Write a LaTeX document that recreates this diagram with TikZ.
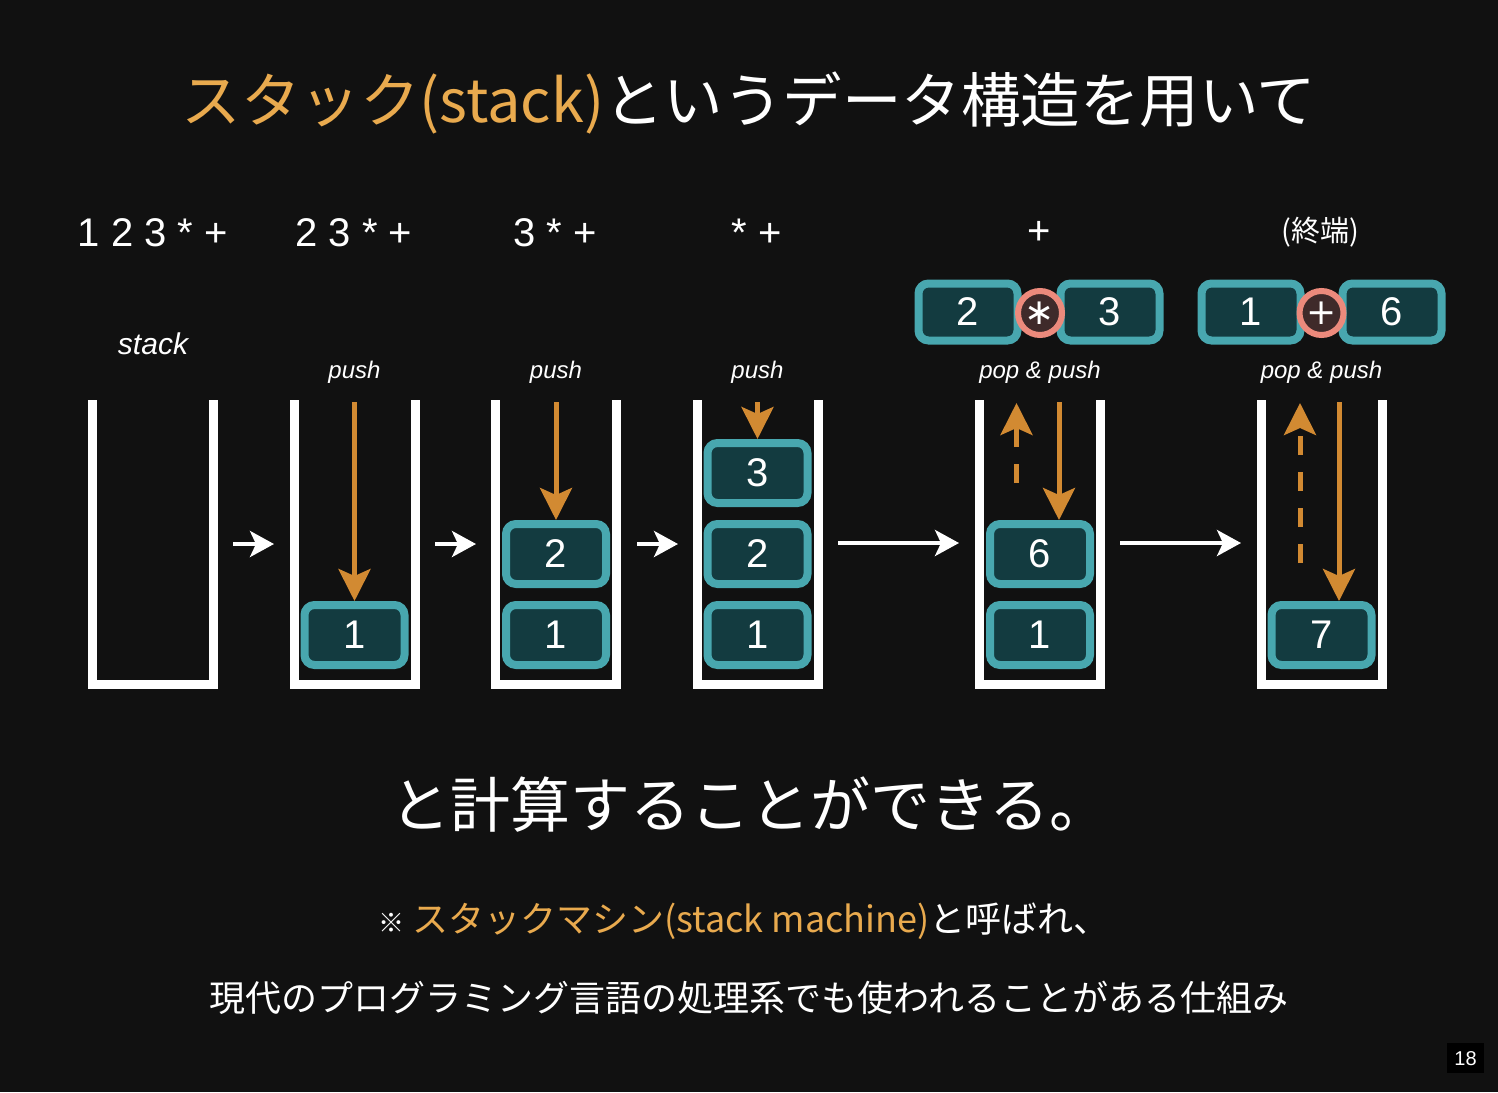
\documentclass[tikz,border=0pt]{standalone}
\usepackage{fontspec}
\setmainfont{Noto Sans CJK JP}
\newfontfamily\lsans{Liberation Sans}
\newfontfamily\djv{DejaVu Sans}
\usetikzlibrary{arrows.meta}
\definecolor{bg}{HTML}{111111}
\definecolor{ttl}{HTML}{E9AA4E}
\definecolor{arr}{HTML}{D28A32}
\definecolor{tealb}{HTML}{48A7AF}
\definecolor{tealf}{HTML}{133B40}
\definecolor{salmon}{HTML}{EC8A7C}
\definecolor{opfill}{HTML}{3F2A2A}
\begin{document}
\begin{tikzpicture}[x=1pt,y=-1pt,
  every node/.style={text=white,inner sep=0pt},
  cell/.style={draw=tealb,fill=tealf,line width=8pt,rounded corners=10pt,
    minimum width=100pt,minimum height=60pt,font=\lsans\fontsize{40}{40}\selectfont},
  topcell/.style={cell,minimum width=99pt,minimum height=57pt},
  opc/.style={circle,draw=salmon,fill=opfill,line width=6pt,minimum size=44pt,
    font=\djv\fontsize{36}{36}\selectfont},
  stk/.style={draw=white,line width=9pt,line join=miter},
  expr/.style={font=\lsans\fontsize{40}{40}\selectfont},
  lbl/.style={font=\lsans\itshape\fontsize{24}{24}\selectfont},
  pusharr/.style={draw=arr,line width=5pt,-{Stealth[length=32pt,width=32pt,inset=7pt]}},
  poparr/.style={pusharr,dash pattern=on 19pt off 17pt},
  flow/.style={draw=white,line width=4pt,-{Stealth[length=24pt,width=26pt,inset=6pt]}}
]
\fill[bg] (0,0) rectangle (1498,1092);
\useasboundingbox (0,0) rectangle (1498,1092);

% title
\node (title) at (749,103) {\fontsize{59.5}{70}\selectfont\textcolor{ttl}{スタック(stack)}というデータ構造を用いて};

% expressions
\node[expr] (e1) at (153,233) {1 2 3 * +};
\node[expr] (e2) at (354,233) {2 3 * +};
\node[expr] (e3) at (555,233) {3 * +};
\node[expr] (e4) at (757,233) {* +};
\node[expr] (e5) at (1039,233) {+};
\node (e6) at (1320,232) {\fontsize{29}{30}\selectfont (終端)};

\node[font=\lsans\itshape\fontsize{30}{30}\selectfont] (lstack) at (153,344) {stack};
\node[lbl] (l2) at (354.5,372) {push};
\node[lbl] (l3) at (556,372) {push};
\node[lbl] (l4) at (757.5,372) {push};
\node[lbl] (l5) at (1040,372) {pop \& push};
\node[lbl] (l6) at (1321.5,372) {pop \& push};

% stacks
\foreach \x in {92.5,294,495.5,697,979.5,1261}{
  \draw[stk] (\x,400) -- (\x,684.5) -- (\x+121,684.5) -- (\x+121,400);
}

% cells
\node[cell] (s2a) at (354.5,635) {1};
\node[cell] (s3a) at (556,635) {1};
\node[cell] (s3b) at (556,554) {2};
\node[cell] (s4a) at (757.5,635) {1};
\node[cell] (s4b) at (757.5,554) {2};
\node[cell] (s4c) at (757.5,473) {3};
\node[cell] (s5a) at (1040,635) {1};
\node[cell] (s5b) at (1040,554) {6};
\node[cell] (s6a) at (1321.5,635) {7};

% top operand cells
\node[topcell] (t2) at (968,312) {2};
\node[topcell] (t3) at (1110,312) {3};
\node[opc] (o1) at (1040,313) {∗};
\node[topcell] (u1) at (1251,312) {1};
\node[topcell] (u6) at (1392,312) {6};
\node[opc] (o2) at (1321.5,313) {+};

% push arrows
\coordinate (p2) at (354.5,402);
\coordinate (p3) at (556,402);
\coordinate (p4) at (757.5,402);
\coordinate (p5) at (1059,402);
\coordinate (p6) at (1339,402);
\draw[pusharr] (p2) -- (s2a.north);
\draw[pusharr] (p3) -- (s3b.north);
\draw[pusharr] (p4) -- (s4c.north);
\draw[pusharr] (p5) -- (p5 |- s5b.north);
\draw[pusharr] (p6) -- (p6 |- s6a.north);

% pop arrows
\coordinate (q5a) at (1016.5,483);
\coordinate (q5b) at (1016.5,403);
\coordinate (q6a) at (1300,563);
\coordinate (q6b) at (1300,403);
\draw[poparr] (q5a) -- (q5b);
\draw[poparr] (q6a) -- (q6b);

% flow arrows
\coordinate (f1a) at (233,544); \coordinate (f1b) at (274,544);
\coordinate (f2a) at (435,544); \coordinate (f2b) at (476,544);
\coordinate (f3a) at (637,544); \coordinate (f3b) at (678,544);
\coordinate (f4a) at (838,543); \coordinate (f4b) at (959,543);
\coordinate (f5a) at (1120,543); \coordinate (f5b) at (1241,543);
\draw[flow] (f1a) -- (f1b);
\draw[flow] (f2a) -- (f2b);
\draw[flow] (f3a) -- (f3b);
\draw[flow] (f4a) -- (f4b);
\draw[flow] (f5a) -- (f5b);

% bottom texts
\node (concl) at (750,805) {\fontsize{60}{70}\selectfont と計算することができる。};
\node (note1) at (744,921) {\fontsize{36}{40}\selectfont{\fontsize{26}{30}\selectfont\bfseries ※} \textcolor{ttl}{スタックマシン(stack machine)}と呼ばれ、};
\node (note2) at (749,998) {\fontsize{36}{40}\selectfont 現代のプログラミング言語の処理系でも使われることがある仕組み};

% page number
\fill[black] (1447,1043) rectangle (1484,1073);
\node[font=\lsans\fontsize{20}{20}\selectfont] (pg) at (1465.5,1059) {18};
\end{tikzpicture}
\end{document}
